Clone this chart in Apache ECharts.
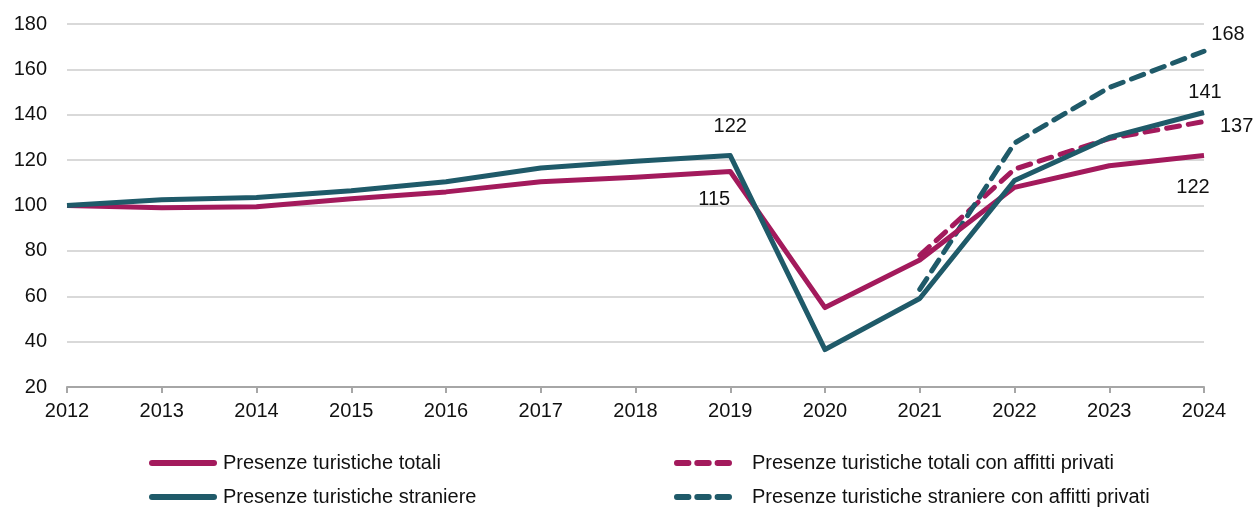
<!DOCTYPE html>
<html>
<head>
<meta charset="utf-8">
<script src="https://cdn.jsdelivr.net/npm/echarts@6/dist/echarts.min.js"></script>
<style>
  html, body { margin: 0; padding: 0; background: #fff; }
  #container { width: 1255px; height: 508px; }
</style>
</head>
<body>
<div id="container"></div>
<script>
var years = ['2012', '2013', '2014', '2015', '2016', '2017', '2018', '2019', '2020', '2021', '2022', '2023', '2024'];
var totali = [100, 99, 99.5, 103, 106, 110.5, 112.5, 115, 55, 76, 108, 117.5, 122];
var straniere = [100, 102.5, 103.5, 106.5, 110.5, 116.5, 119.5, 122, 36.5, 59, 111, 130, 141];
var totaliAffitti = [null, null, null, null, null, null, null, null, null, 78, 116, 129.5, 137];
var straniereAffitti = [null, null, null, null, null, null, null, null, null, 63, 127.5, 152, 168];
var seriesNames = [
    'Presenze turistiche totali',
    'Presenze turistiche straniere',
    'Presenze turistiche totali con affitti privati',
    'Presenze turistiche straniere con affitti privati'
];

var MAGENTA = '#a31a5c';
var TEAL = '#1f5a69';
var FONT = 'Liberation Sans';
var SOLID_ICON = 'path://M3,0 H65 A3,3 0 0 1 65,6 H3 A3,3 0 0 1 3,0 Z';
var DASH_ICON = 'path://M3,0 H15 A3,3 0 0 1 15,6 H3 A3,3 0 0 1 3,0 Z M24,0 H36 A3,3 0 0 1 36,6 H24 A3,3 0 0 1 24,0 Z M45,0 H57 A3,3 0 0 1 57,6 H45 A3,3 0 0 1 45,0 Z';

// label placement: index -> [position, offset]
function withLabels(values, marks) {
    return values.map(function (v, i) {
        if (marks[i]) {
            return {
                value: v,
                label: {
                    show: true,
                    position: marks[i][0],
                    offset: marks[i][1],
                    formatter: String(Math.round(v)),
                    color: '#111',
                    fontSize: 20,
                    fontFamily: FONT
                }
            };
        }
        return v;
    });
}

function lineSeries(name, values, color, dashed, marks, z) {
    return {
        name: name,
        type: 'line',
        data: withLabels(values, marks),
        symbol: 'circle',
        symbolSize: 0,
        showSymbol: true,
        lineStyle: dashed
            ? { color: color, width: 5, type: [13, 9], cap: 'round' }
            : { color: color, width: 5, join: 'round' },
        itemStyle: { color: color },
        z: z
    };
}

// one legend box per item, so each sits where the reference has it
function legendItem(name, icon, left, top, width, gap) {
    return {
        data: [{ name: name, icon: icon }],
        left: left,
        top: top,
        padding: 0,
        itemWidth: width,
        itemHeight: 6,
        textStyle: { fontSize: 20, color: '#111', fontFamily: FONT, padding: [0, 0, 0, gap] }
    };
}

var myChart = echarts.init(document.getElementById('container'));
var option = {
    animation: false,
    textStyle: { fontFamily: FONT },
    grid: { left: 67, right: 51, top: 24, bottom: 121 },
    legend: [
        legendItem(seriesNames[0], SOLID_ICON, 149, 453, 70, 0),
        legendItem(seriesNames[1], SOLID_ICON, 149, 487, 70, 0),
        legendItem(seriesNames[2], DASH_ICON, 674, 453, 58, 15),
        legendItem(seriesNames[3], DASH_ICON, 674, 487, 58, 15)
    ],
    xAxis: {
        type: 'category',
        data: years,
        boundaryGap: false,
        axisLine: { lineStyle: { color: '#a6a6a6', width: 2 } },
        axisTick: { show: true, length: 6, lineStyle: { color: '#a6a6a6', width: 2 } },
        axisLabel: { color: '#111', fontSize: 20, margin: 14, fontFamily: FONT }
    },
    yAxis: {
        type: 'value',
        min: 20,
        max: 180,
        interval: 20,
        axisLine: { show: false },
        axisTick: { show: false },
        axisLabel: { color: '#111', fontSize: 20, margin: 20, fontFamily: FONT },
        splitLine: { lineStyle: { color: '#d9d9d9', width: 2 } }
    },
    series: [
        lineSeries(seriesNames[0], totali, MAGENTA, false, { 7: ['bottom', [-16, 13]], 12: ['bottom', [-11, 17]] }, 3),
        lineSeries(seriesNames[1], straniere, TEAL, false, { 7: ['top', [0, -14]], 12: ['top', [1, -5]] }, 4),
        lineSeries(seriesNames[2], totaliAffitti, MAGENTA, true, { 12: ['right', [11, 5]] }, 2),
        lineSeries(seriesNames[3], straniereAffitti, TEAL, true, { 12: ['top', [24, -2]] }, 2)
    ]
};
myChart.setOption(option);
</script>
</body>
</html>
